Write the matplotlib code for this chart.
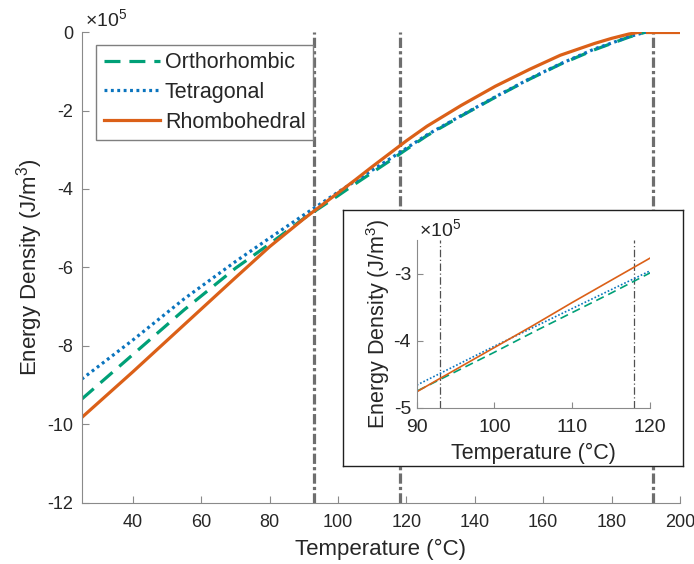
import numpy as np
import matplotlib
matplotlib.use('Agg')
import matplotlib.pyplot as plt
from matplotlib.ticker import FuncFormatter

plt.rcParams['font.family'] = ['Liberation Sans', 'DejaVu Sans']
plt.rcParams['mathtext.fontset'] = 'custom'
plt.rcParams['mathtext.rm'] = 'Liberation Sans'
plt.rcParams['mathtext.it'] = 'Liberation Sans:italic'

# energy density in units of 1e5 J/m^3
t_rh = [25, 40, 55, 70, 80, 90, 93, 100, 105, 110, 115, 120, 126, 136, 146, 156, 165, 175, 180, 185, 188.3]
e_rh = [-9.83, -8.66, -7.46, -6.26, -5.47, -4.76, -4.56, -4.10, -3.77, -3.43, -3.10, -2.77,
        -2.40, -1.87, -1.38, -0.95, -0.59, -0.29, -0.16, -0.05, 0.0]
t_rh_para = [190.3, 200]
e_rh_para = [0.0, 0.0]

t_te = [25, 40, 55, 70, 80, 90, 95, 100, 105, 110, 115, 120, 126, 136, 146, 156, 165, 175, 180, 185, 190]
e_te = [-8.85, -7.85, -6.80, -5.85, -5.25, -4.66, -4.37, -4.08, -3.80, -3.52, -3.24, -2.96,
        -2.62, -2.13, -1.65, -1.19, -0.81, -0.43, -0.28, -0.12, 0.0]

t_or = [25, 40, 55, 70, 80, 90, 95, 100, 105, 110, 115, 120, 126, 136, 146, 156, 165, 175, 180, 185, 190]
e_or = [-9.36, -8.22, -7.08, -6.02, -5.40, -4.75, -4.46, -4.17, -3.87, -3.58, -3.29, -2.99,
        -2.64, -2.14, -1.66, -1.20, -0.82, -0.45, -0.29, -0.13, 0.0]

t_trans = [93, 118, 192]

green = '#00A077'
blue = '#0A74BE'
orange = '#DB6018'
vgray = '#6E6E6E'
sgray = '#8A8A8A'
tcol = '#262626'

def sc(v):
    return np.array(v) * 1e5

fmt = FuncFormatter(lambda v, p: f'{v / 1e5:g}')

fig = plt.figure(figsize=(6.94, 5.64), dpi=100)
ax = fig.add_axes([0.1177, 0.1087, 0.8621, 0.8344])

l1, = ax.plot(t_or, sc(e_or), color=green, lw=2.3, ls=(0, (5, 2.8)), label='Orthorhombic')
l2, = ax.plot(t_te, sc(e_te), color=blue, lw=2.3, ls=(0, (0.9, 1.1)), label='Tetragonal')
l3, = ax.plot(t_rh, sc(e_rh), color=orange, lw=2.3, label='Rhombohedral')
ax.plot(t_rh_para, sc(e_rh_para), color=orange, lw=2.3)
for t in t_trans:
    ax.axvline(t, color=vgray, lw=2.3, ls=(0, (3.2, 1.0, 1.0, 1.0)), zorder=1)

ax.set_xlim(25, 200)
ax.set_ylim(-12e5, 0)
ax.set_xticks(range(40, 201, 20))
ax.set_yticks(np.arange(-12e5, 1, 2e5))
ax.yaxis.set_major_formatter(fmt)
for s in ['top', 'right']:
    ax.spines[s].set_visible(False)
for s in ['left', 'bottom']:
    ax.spines[s].set_color(sgray)
ax.tick_params(direction='in', length=5, color=sgray, labelcolor=tcol, labelsize=13)
ax.tick_params(axis='x', pad=8)
ax.tick_params(axis='y', pad=6)
ax.set_xlabel('Temperature (°C)', fontsize=16, color=tcol, labelpad=6)
ax.set_ylabel('Energy Density (J/m$^3$)', fontsize=16, color=tcol, labelpad=2)
ax.text(0.005, 1.004, '×10$^5$', transform=ax.transAxes, fontsize=14, color=tcol,
        ha='left', va='bottom')

leg = ax.legend(handles=[l1, l2, l3], loc='upper left', bbox_to_anchor=(0.024, 0.973),
                borderaxespad=0, fontsize=15.5, fancybox=False, framealpha=1,
                edgecolor='#7F7F7F', handlelength=2.6, handletextpad=0.25,
                labelspacing=0.4, borderpad=0.35)
leg.get_frame().set_linewidth(1.0)
for txt in leg.get_texts():
    txt.set_color(tcol)

# inset frame
box = fig.add_axes([0.4938, 0.1738, 0.4903, 0.4539])
box.set_xticks([])
box.set_yticks([])
box.set_facecolor('white')
for s in box.spines.values():
    s.set_color('#202020')
    s.set_linewidth(1.0)

ins = fig.add_axes([0.6004, 0.2766, 0.3362, 0.2979])
ins.plot(t_or, sc(e_or), color=green, lw=1.2, ls=(0, (5, 3)))
ins.plot(t_te, sc(e_te), color=blue, lw=1.2, ls=(0, (1, 1.2)))
ins.plot(t_rh, sc(e_rh), color=orange, lw=1.2)
for t in t_trans[:2]:
    ins.axvline(t, color='#505050', lw=0.9, ls=(0, (6, 2, 1, 2)), zorder=1)
ins.set_xlim(90, 120)
ins.set_ylim(-5e5, -2.5e5)
ins.set_xticks([90, 100, 110, 120])
ins.set_yticks([-5e5, -4e5, -3e5])
ins.yaxis.set_major_formatter(fmt)
for s in ['top', 'right']:
    ins.spines[s].set_visible(False)
for s in ['left', 'bottom']:
    ins.spines[s].set_color(sgray)
ins.tick_params(direction='in', length=4, color=sgray, labelcolor=tcol, labelsize=14)
ins.tick_params(axis='x', pad=8)
ins.tick_params(axis='y', pad=4)
ins.set_xlabel('Temperature (°C)', fontsize=15.5, color=tcol, labelpad=5)
ins.set_ylabel('Energy Density (J/m$^3$)', fontsize=15.5, color=tcol, labelpad=1)
ins.text(0.01, 1.0, '×10$^5$', transform=ins.transAxes, fontsize=14, color=tcol,
         ha='left', va='bottom')

fig.savefig('out.png', dpi=100)
